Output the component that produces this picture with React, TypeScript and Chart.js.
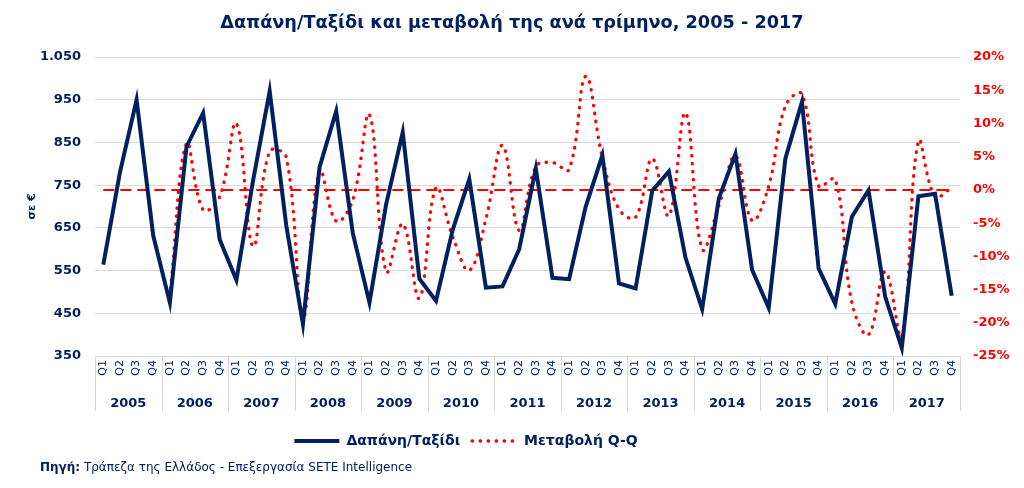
import { useEffect, useRef } from 'react';
import { Chart, registerables } from 'chart.js';

Chart.register(...registerables);

const years = ['2005', '2006', '2007', '2008', '2009', '2010', '2011', '2012', '2013', '2014', '2015', '2016', '2017'];
const quarterLabels = ['Q1', 'Q2', 'Q3', 'Q4'];
const categories = years.flatMap(() => quarterLabels);

// Δαπάνη/Ταξίδι (€)
const spending = [
  564, 780, 950, 632,
  475, 840, 919, 622,
  528, 760, 970, 655,
  425, 792, 923, 637,
  475, 705, 874, 531,
  479, 645, 764, 510,
  513, 600, 789, 533,
  530, 700, 820, 520,
  508, 737, 782, 580,
  460, 719, 823, 552,
  463, 812, 945, 555,
  472, 676, 738, 489,
  369, 724, 730, 491,
];

// Μεταβολή Q-Q (%)
const changeQQ = [
  null, null, null, null,
  -16, 7, -3, -1,
  10, -8.5, 5.8, 4.9,
  -19.3, 2.9, -4.7, -1.5,
  11.3, -12.3, -5.1, -16.3,
  0.3, -7, -12.1, -4.4,
  6.7, -6.1, 3.5, 4.1,
  3.1, 17.1, 4.9, -2.9,
  -4.1, 4.7, -3.9, 11.6,
  -8.9, -2.4, 5.1, -4.6,
  0.6, 12.6, 14.4, 0.6,
  1.6, -17, -21.8, -12.3,
  -22, 7.3, -1, 0.3,
];

// reference line at 0%
const zeroLine = [
  0, 0, 0, 0, 0, 0, 0, 0, 0, 0, 0, 0, 0,
  0, 0, 0, 0, 0, 0, 0, 0, 0, 0, 0, 0, 0,
  0, 0, 0, 0, 0, 0, 0, 0, 0, 0, 0, 0, 0,
  0, 0, 0, 0, 0, 0, 0, 0, 0, 0, 0, 0, 0,
];

const NAVY = '#002060';
const RED = '#FF0000';
const GRID = '#D9D9D9';
const FONT = 'DejaVu Sans';

const formatThousands = (v: number) => {
  if (v >= 1000) {
    const th = Math.floor(v / 1000);
    const rest = String(Math.round(v % 1000)).padStart(3, '0');
    return `${th}.${rest}`;
  }
  return String(v);
};

const yearSeparators = {
  id: 'yearSeparators',
  afterLayout(chart: any) {
    // the legend in the reference sits left of centre
    const lg = chart.legend;
    if (lg) {
      lg.left -= 46;
      lg.right -= 46;
      if (lg.adjustHitBoxes) lg.adjustHitBoxes();
    }
  },
  afterDraw(chart: any) {
    const x = chart.scales.x;
    const x2 = chart.scales.x2;
    if (!x || !x2) return;
    const ctx = chart.ctx;
    const half = (x.getPixelForValue(1) - x.getPixelForValue(0)) / 2;
    const top = chart.chartArea.bottom;
    const bottom = x2.top + 25;
    ctx.save();
    ctx.strokeStyle = GRID;
    ctx.lineWidth = 1;
    ctx.beginPath();
    for (let k = 0; k <= years.length; k++) {
      let px;
      if (k < years.length) px = x.getPixelForValue(k * quarterLabels.length) - half;
      else px = x.getPixelForValue(categories.length - 1) + half;
      px = Math.round(px) + 0.5;
      ctx.moveTo(px, top);
      ctx.lineTo(px, bottom);
    }
    ctx.stroke();
    ctx.restore();
  },
};

export default function App() {
  const canvasRef = useRef<HTMLCanvasElement | null>(null);

  useEffect(() => {
    document.body.style.margin = '0';
    const canvas = canvasRef.current;
    if (!canvas) return;
    Chart.defaults.font.family = FONT;
    const chart = new Chart(canvas, {
      type: 'line',
      data: {
        labels: categories,
        datasets: [
          {
            label: 'Δαπάνη/Ταξίδι',
            data: spending,
            yAxisID: 'y',
            borderColor: NAVY,
            backgroundColor: NAVY,
            borderWidth: 4,
            pointRadius: 0,
            pointStyle: 'line',
            tension: 0,
            borderJoinStyle: 'miter',
            order: 1,
          },
          {
            label: 'Μεταβολή Q-Q',
            data: changeQQ,
            yAxisID: 'y1',
            borderColor: RED,
            backgroundColor: RED,
            borderWidth: 3.3,
            borderDash: [0.5, 7.5],
            borderCapStyle: 'round',
            pointRadius: 0,
            pointStyle: 'line',
            tension: 0.4,
            order: 2,
          },
          {
            label: 'zero',
            data: zeroLine,
            yAxisID: 'y1',
            borderColor: RED,
            backgroundColor: RED,
            borderWidth: 2,
            borderDash: [11, 6],
            pointRadius: 0,
            tension: 0,
            order: 3,
          },
        ],
      },
      options: {
        animation: false,
        responsive: false,
        maintainAspectRatio: false,
        layout: { padding: { left: 0, right: 0, top: 0, bottom: 30 } },
        plugins: {
          title: {
            display: true,
            text: 'Δαπάνη/Ταξίδι και μεταβολή της ανά τρίμηνο, 2005 - 2017',
            color: NAVY,
            font: { family: FONT, size: 17.7, weight: 'bold' },
            padding: { top: 12.5, bottom: 23.3 },
          },
          legend: {
            display: true,
            position: 'bottom',
            labels: {
              color: NAVY,
              font: { family: FONT, size: 14, weight: 'bold' },
              usePointStyle: true,
              pointStyleWidth: 45,
              padding: 12,
              generateLabels: (ch: any) => {
                const base = (Chart.defaults as any).plugins.legend.labels.generateLabels(ch);
                return base
                  .filter((it: any) => it.text !== 'zero')
                  .map((it: any) => {
                    const ds: any = ch.data.datasets[it.datasetIndex];
                    return {
                      ...it,
                      pointStyle: 'line',
                      strokeStyle: ds.borderColor,
                      lineWidth: ds.borderWidth,
                      lineDash: ds.borderDash || [],
                      lineCap: ds.borderCapStyle || 'butt',
                    };
                  });
              },
            },
          },
          tooltip: { enabled: false },
        },
        scales: {
          x: {
            type: 'category',
            offset: true,
            position: 'bottom',
            grid: { display: false, drawTicks: false },
            border: { display: true, color: GRID },
            ticks: {
              color: NAVY,
              font: { family: FONT, size: 11 },
              autoSkip: false,
              minRotation: 90,
              maxRotation: 90,
              padding: 4,
            },
            afterFit: (s: any) => { s.height = 30; },
          },
          x2: {
            type: 'category',
            labels: years,
            offset: true,
            position: 'bottom',
            grid: { display: false, drawTicks: false },
            border: { display: false },
            ticks: {
              color: NAVY,
              font: { family: FONT, size: 13, weight: 'bold' },
              autoSkip: false,
              maxRotation: 0,
              padding: 10,
            },
            afterFit: (s: any) => { s.height = 36; },
          },
          y: {
            type: 'linear',
            position: 'left',
            min: 350,
            max: 1050,
            grid: { color: GRID, drawTicks: false },
            border: { display: false },
            ticks: {
              stepSize: 100,
              color: NAVY,
              font: { family: FONT, size: 13, weight: 'bold' },
              padding: 14,
              callback: (v: any) => formatThousands(Number(v)),
            },
            title: {
              display: true,
              text: 'σε €',
              color: NAVY,
              font: { family: FONT, size: 11, weight: 'bold' },
              padding: { top: 26, bottom: 0 },
            },
            afterFit: (s: any) => { s.width = 95; },
          },
          y1: {
            type: 'linear',
            position: 'right',
            min: -25,
            max: 20,
            grid: { drawOnChartArea: false, drawTicks: false },
            border: { display: false },
            ticks: {
              stepSize: 5,
              color: RED,
              font: { family: FONT, size: 13, weight: 'bold' },
              padding: 13,
              callback: (v: any) => `${v}%`,
            },
            afterFit: (s: any) => { s.width = 64; },
          },
        },
      },
      plugins: [yearSeparators],
    } as any);
    return () => chart.destroy();
  }, []);

  return (
    <div style={{ position: 'relative', width: 1024, height: 488, background: '#fff' }}>
      <canvas ref={canvasRef} width={1024} height={488} style={{ width: 1024, height: 488, display: 'block' }} />
      <div
        style={{
          position: 'absolute',
          left: 40,
          top: 460,
          fontFamily: FONT,
          fontSize: 12,
          color: NAVY,
          whiteSpace: 'nowrap',
        }}
      >
        <b>Πηγή:</b> Τράπεζα της Ελλάδος - Επεξεργασία SETE Intelligence
      </div>
    </div>
  );
}
